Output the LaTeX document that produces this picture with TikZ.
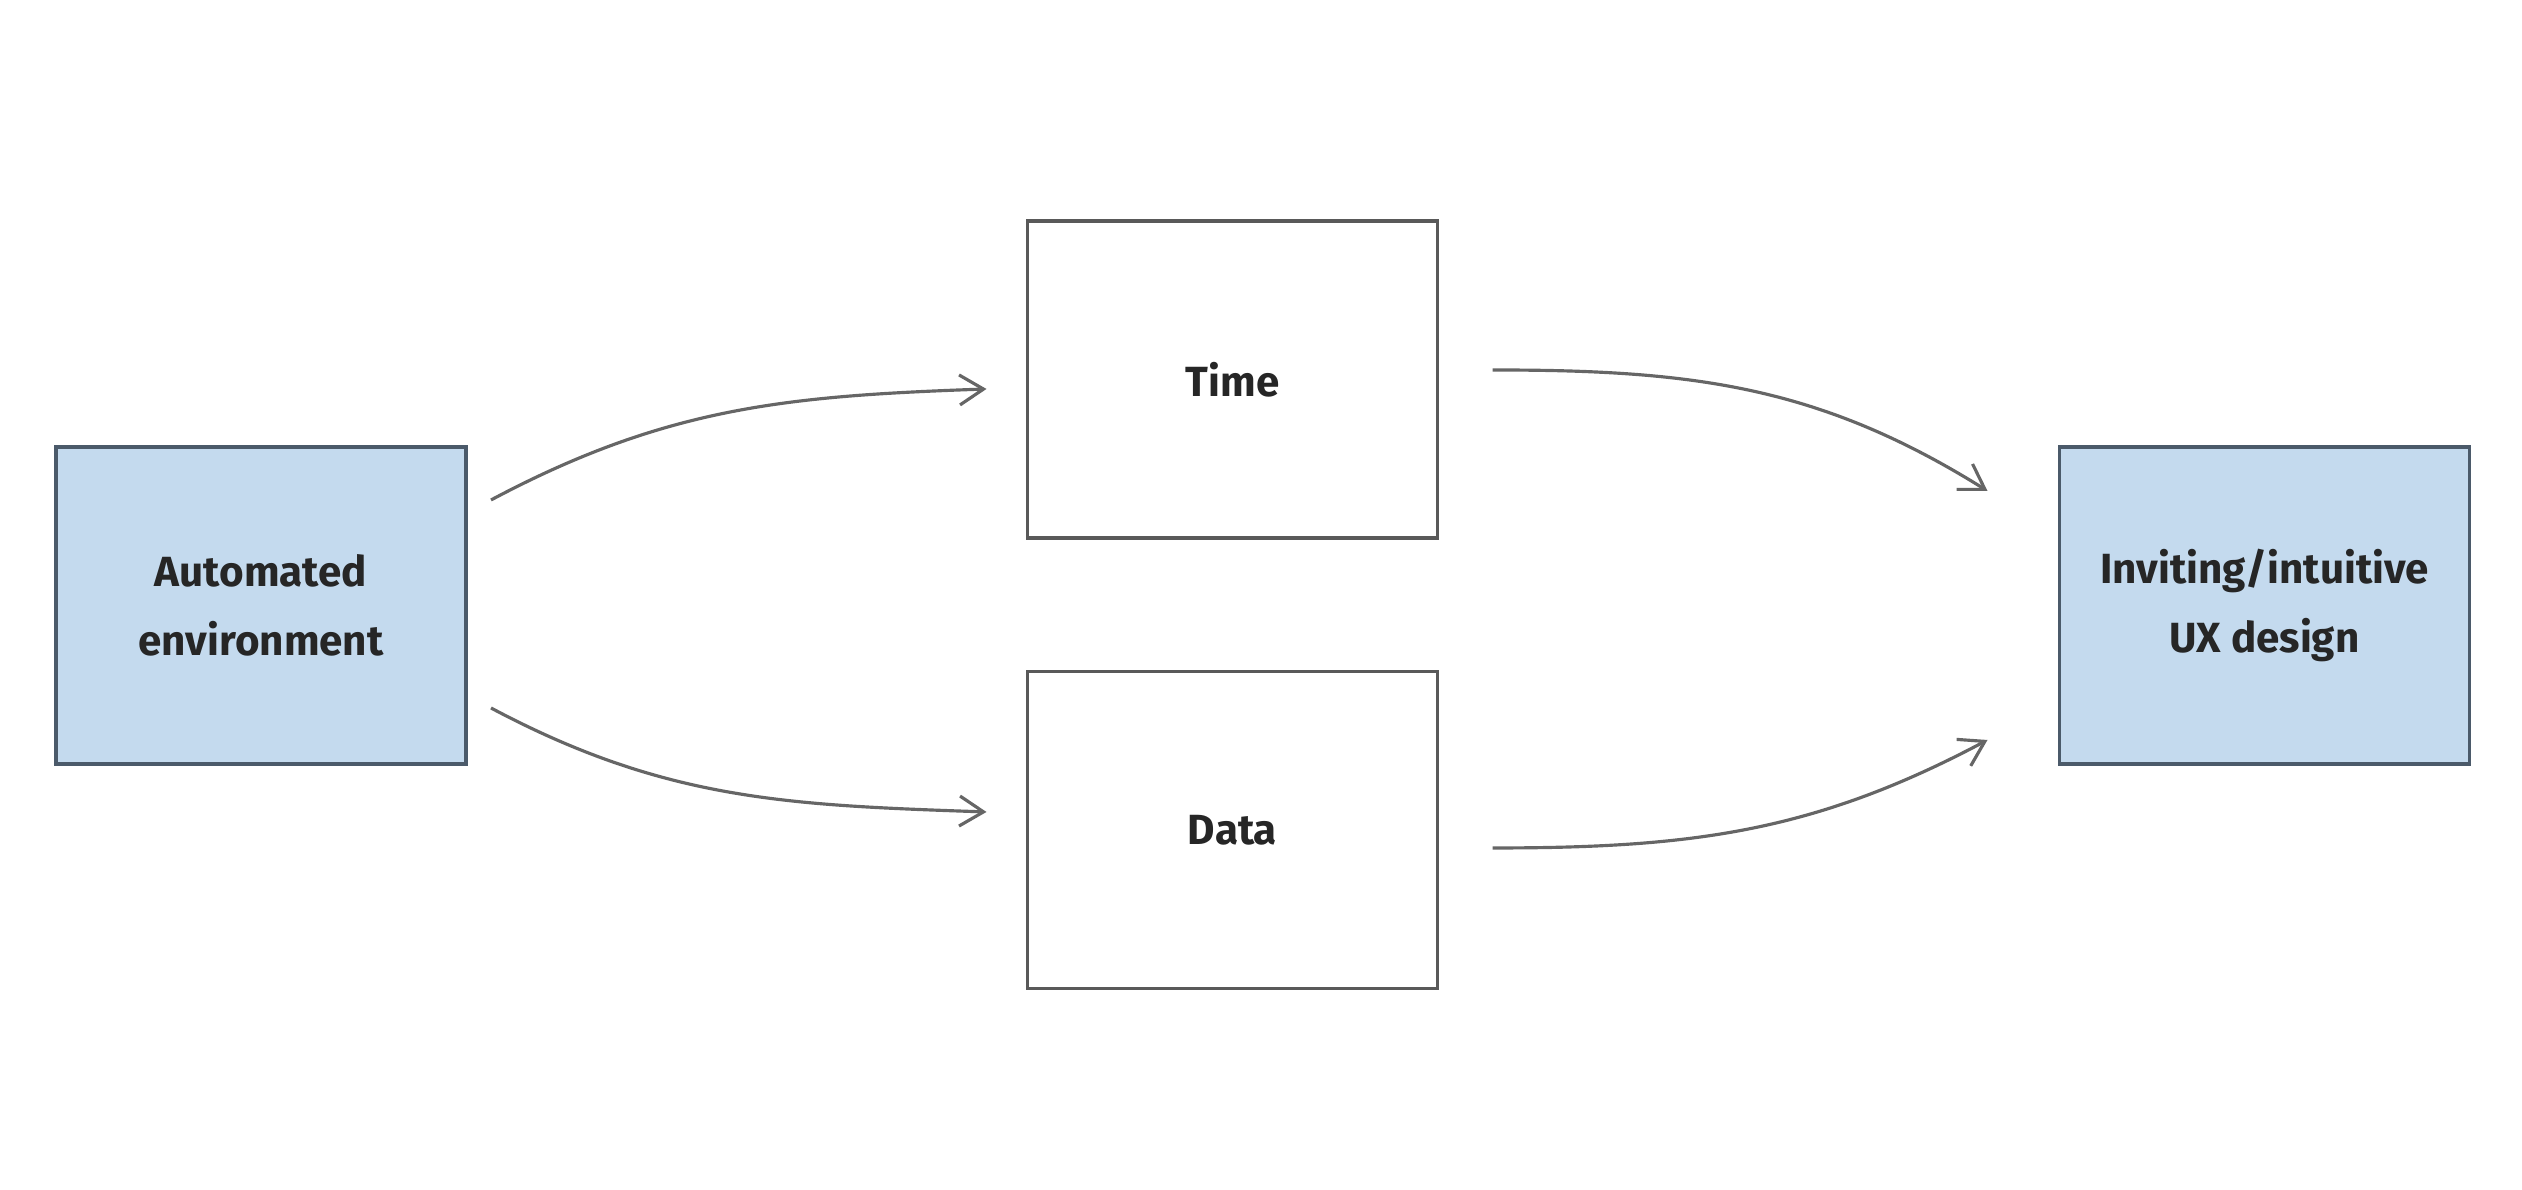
\documentclass[tikz,border=0pt]{standalone}
\usepackage{fontspec}
\setmainfont{Fira Sans}
\usetikzlibrary{arrows.meta}

\definecolor{boxblue}{HTML}{C4DAEE}
\definecolor{boxedge}{HTML}{4B5A6A}
\definecolor{linegray}{HTML}{666666}

\begin{document}
\begin{tikzpicture}[every node/.style={minimum width=4.1cm, minimum height=3.17cm, outer sep=0pt, align=center, font=\fontsize{12}{19.6}\selectfont\bfseries, text=black!85},
  goalbox/.style={draw=boxedge, fill=boxblue, line width=0.9pt},
  factorbox/.style={draw=black!65, line width=0.9pt},
  flow/.style={draw=linegray, line width=0.9pt, -{Straight Barb[length=2.4mm, width=3mm, line width=0.9pt]}}]

\useasboundingbox (0,0) rectangle (25.22,11.90);

\node[goalbox] (auto) at (2.61,5.845) {Automated\\environment};
\node[factorbox] (time) at (12.325,8.105) {Time};
\node[factorbox] (data) at (12.325,3.60) {Data};
\node[goalbox] (ux) at (22.645,5.845) {Inviting/intuitive\\UX design};

\draw[flow] ([xshift=0.25cm,yshift=1.055cm]auto.east) to[out=28,in=182] ([xshift=-0.41cm,yshift=-0.095cm]time.west);
\draw[flow] ([xshift=0.25cm,yshift=-1.025cm]auto.east) to[out=-28,in=178] ([xshift=-0.41cm,yshift=0.18cm]data.west);
\draw[flow] ([xshift=0.55cm,yshift=0.095cm]time.east) to[out=0,in=148] ([xshift=-0.72cm,yshift=1.145cm]ux.west);
\draw[flow] ([xshift=0.55cm,yshift=-0.18cm]data.east) to[out=0,in=-152] ([xshift=-0.72cm,yshift=-1.345cm]ux.west);
\end{tikzpicture}
\end{document}
